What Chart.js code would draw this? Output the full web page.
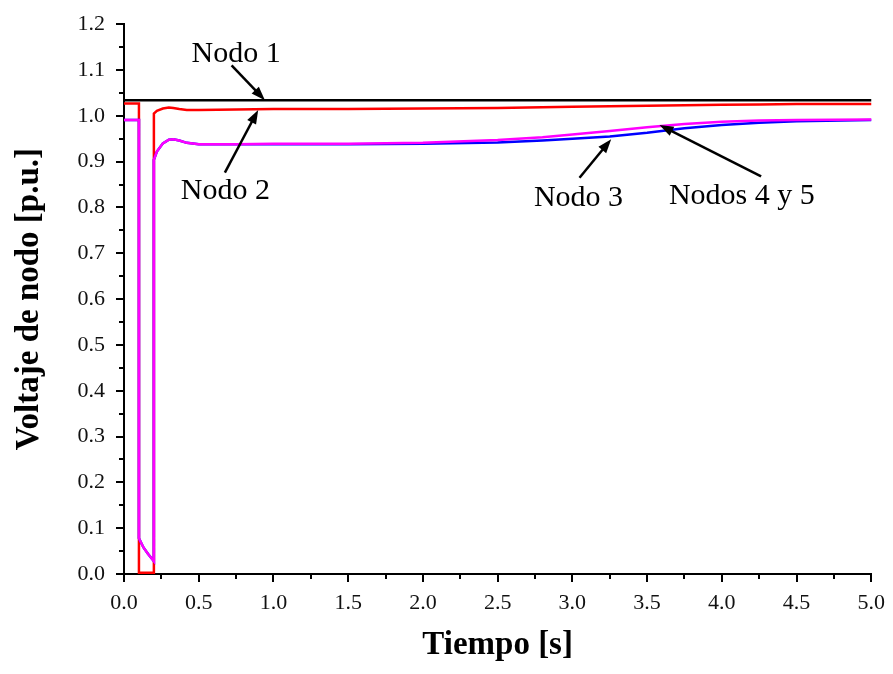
<!DOCTYPE html>
<html>
<head>
<meta charset="utf-8">
<script src="https://cdn.jsdelivr.net/npm/chart.js@4.4.1/dist/chart.umd.min.js"></script>
<style>
  html, body { margin: 0; padding: 0; background: #fff; }
</style>
</head>
<body>
<canvas id="voltajes" width="893" height="674"></canvas>
<script>
// tiempo [s] -- repeated values give the vertical steps of the fault
const tiempo = [0, 0.1, 0.1, 0.13, 0.16, 0.2, 0.2, 0.22, 0.26, 0.3, 0.33, 0.37, 0.42, 0.5,
                0.75, 1.0, 1.5, 2.0, 2.5, 2.8, 3.0, 3.25, 3.5, 3.75, 4.0, 4.25, 4.5, 5.0];

const nodo1 = [1.034, 1.034, 1.034, 1.034, 1.034, 1.034, 1.034, 1.034, 1.034, 1.034, 1.034, 1.034, 1.034, 1.034,
               1.034, 1.034, 1.034, 1.034, 1.034, 1.034, 1.034, 1.034, 1.034, 1.034, 1.034, 1.034, 1.034, 1.034];

const nodo2 = [1.027, 1.027, 0.003, 0.003, 0.003, 0.003, 1.005, 1.011, 1.016, 1.018, 1.017, 1.015, 1.013, 1.013,
               1.014, 1.015, 1.015, 1.016, 1.017, 1.019, 1.020, 1.021, 1.022, 1.023, 1.024, 1.025, 1.026, 1.026];

const nodo3 = [0.991, 0.991, 0.078, 0.058, 0.044, 0.028, 0.904, 0.922, 0.940, 0.948, 0.949, 0.946, 0.941, 0.938,
               0.938, 0.938, 0.938, 0.939, 0.942, 0.946, 0.950, 0.955, 0.963, 0.973, 0.980, 0.985, 0.988, 0.991];

const nodos45 = [0.991, 0.991, 0.078, 0.058, 0.044, 0.028, 0.904, 0.922, 0.940, 0.948, 0.949, 0.946, 0.941, 0.938,
                 0.938, 0.939, 0.939, 0.941, 0.947, 0.953, 0.959, 0.967, 0.975, 0.982, 0.987, 0.990, 0.991, 0.992];

// labels with arrows, in data units (t, v)
const notas = [
  { texto: 'Nodo 1',      t: 0.750, v: 1.118, desde: [0.720, 1.110], hasta: [0.943, 1.034] },
  { texto: 'Nodo 2',      t: 0.678, v: 0.818, desde: [0.675, 0.876], hasta: [0.898, 1.013] },
  { texto: 'Nodo 3',      t: 3.041, v: 0.804, desde: [3.048, 0.865], hasta: [3.260, 0.949] },
  { texto: 'Nodos 4 y 5', t: 4.134, v: 0.807, desde: [4.263, 0.868], hasta: [3.583, 0.980] }
];

const pares = (vals) => tiempo.map((t, i) => ({ x: t, y: vals[i] }));

function flecha(ctx, x0, y0, x1, y1) {
  const a = Math.atan2(y1 - y0, x1 - x0);
  const c = Math.cos(a), s = Math.sin(a);
  const largo = 14, ancho = 5;
  ctx.beginPath();
  ctx.moveTo(x0, y0);
  ctx.lineTo(x1 - largo * 0.7 * c, y1 - largo * 0.7 * s);
  ctx.stroke();
  ctx.beginPath();
  ctx.moveTo(x1, y1);
  ctx.lineTo(x1 - largo * c + ancho * s, y1 - largo * s - ancho * c);
  ctx.lineTo(x1 - largo * c - ancho * s, y1 - largo * s + ancho * c);
  ctx.closePath();
  ctx.fill();
}

const extras = {
  id: 'extras',
  afterDraw(chart) {
    const { ctx, chartArea, scales: { x, y } } = chart;
    ctx.save();
    ctx.strokeStyle = '#000';
    ctx.fillStyle = '#000';
    ctx.lineWidth = 2;
    // minor ticks
    ctx.beginPath();
    for (let i = 0; i < 12; i++) {
      const py = Math.round(y.getPixelForValue(0.05 + i * 0.1));
      ctx.moveTo(chartArea.left, py);
      ctx.lineTo(chartArea.left - 5, py);
    }
    for (let i = 0; i < 10; i++) {
      const px = Math.round(x.getPixelForValue(0.25 + i * 0.5));
      ctx.moveTo(px, chartArea.bottom);
      ctx.lineTo(px, chartArea.bottom + 5);
    }
    ctx.stroke();
    // annotations
    ctx.lineWidth = 2.5;
    ctx.font = '30px "Liberation Serif", serif';
    ctx.textAlign = 'center';
    ctx.textBaseline = 'alphabetic';
    notas.forEach(n => {
      ctx.fillText(n.texto, x.getPixelForValue(n.t), y.getPixelForValue(n.v));
      flecha(ctx,
        x.getPixelForValue(n.desde[0]), y.getPixelForValue(n.desde[1]),
        x.getPixelForValue(n.hasta[0]), y.getPixelForValue(n.hasta[1]));
    });
    ctx.restore();
  }
};

const tickFont = { family: '"Liberation Serif", serif', size: 22 };
const titleFont = { family: '"Liberation Serif", serif', size: 33, weight: 'bold' };

new Chart(document.getElementById('voltajes'), {
  type: 'line',
  data: {
    datasets: [
      { label: 'Nodo 1', data: pares(nodo1), borderColor: '#000000' },
      { label: 'Nodos 4 y 5', data: pares(nodos45), borderColor: '#ff00ff' },
      { label: 'Nodo 3', data: pares(nodo3), borderColor: '#0000ff' },
      { label: 'Nodo 2', data: pares(nodo2), borderColor: '#ff0000' }
    ]
  },
  options: {
    responsive: false,
    animation: false,
    datasets: { line: { clip: false, borderWidth: 2.5 } },
    elements: { point: { radius: 0 }, line: { tension: 0, fill: false } },
    layout: { padding: { top: 20, right: 21, left: 0, bottom: 0 } },
    plugins: { legend: { display: false }, tooltip: { enabled: false } },
    scales: {
      x: {
        type: 'linear',
        min: 0, max: 5,
        afterFit(scale) { scale.height = 100; },
        grid: { drawOnChartArea: false, color: '#000', lineWidth: 2, tickLength: 8 },
        border: { color: '#000', width: 2 },
        ticks: {
          stepSize: 0.5, padding: 8, color: '#111', font: tickFont, maxRotation: 0,
          callback: (v) => v.toFixed(1)
        },
        title: { display: true, text: 'Tiempo [s]', color: '#000', font: titleFont, padding: { top: 0, bottom: 9 } }
      },
      y: {
        min: 0, max: 1.2,
        afterFit(scale) { scale.width = 124; },
        grid: { drawOnChartArea: false, color: '#000', lineWidth: 2, tickLength: 8 },
        border: { color: '#000', width: 2 },
        ticks: {
          stepSize: 0.1, padding: 11, color: '#111', font: tickFont,
          callback: (v) => v.toFixed(1)
        },
        title: { display: true, text: 'Voltaje de nodo [p.u.]', color: '#000', font: titleFont, padding: { top: 10, bottom: 0 } }
      }
    }
  },
  plugins: [extras]
});
</script>
</body>
</html>
